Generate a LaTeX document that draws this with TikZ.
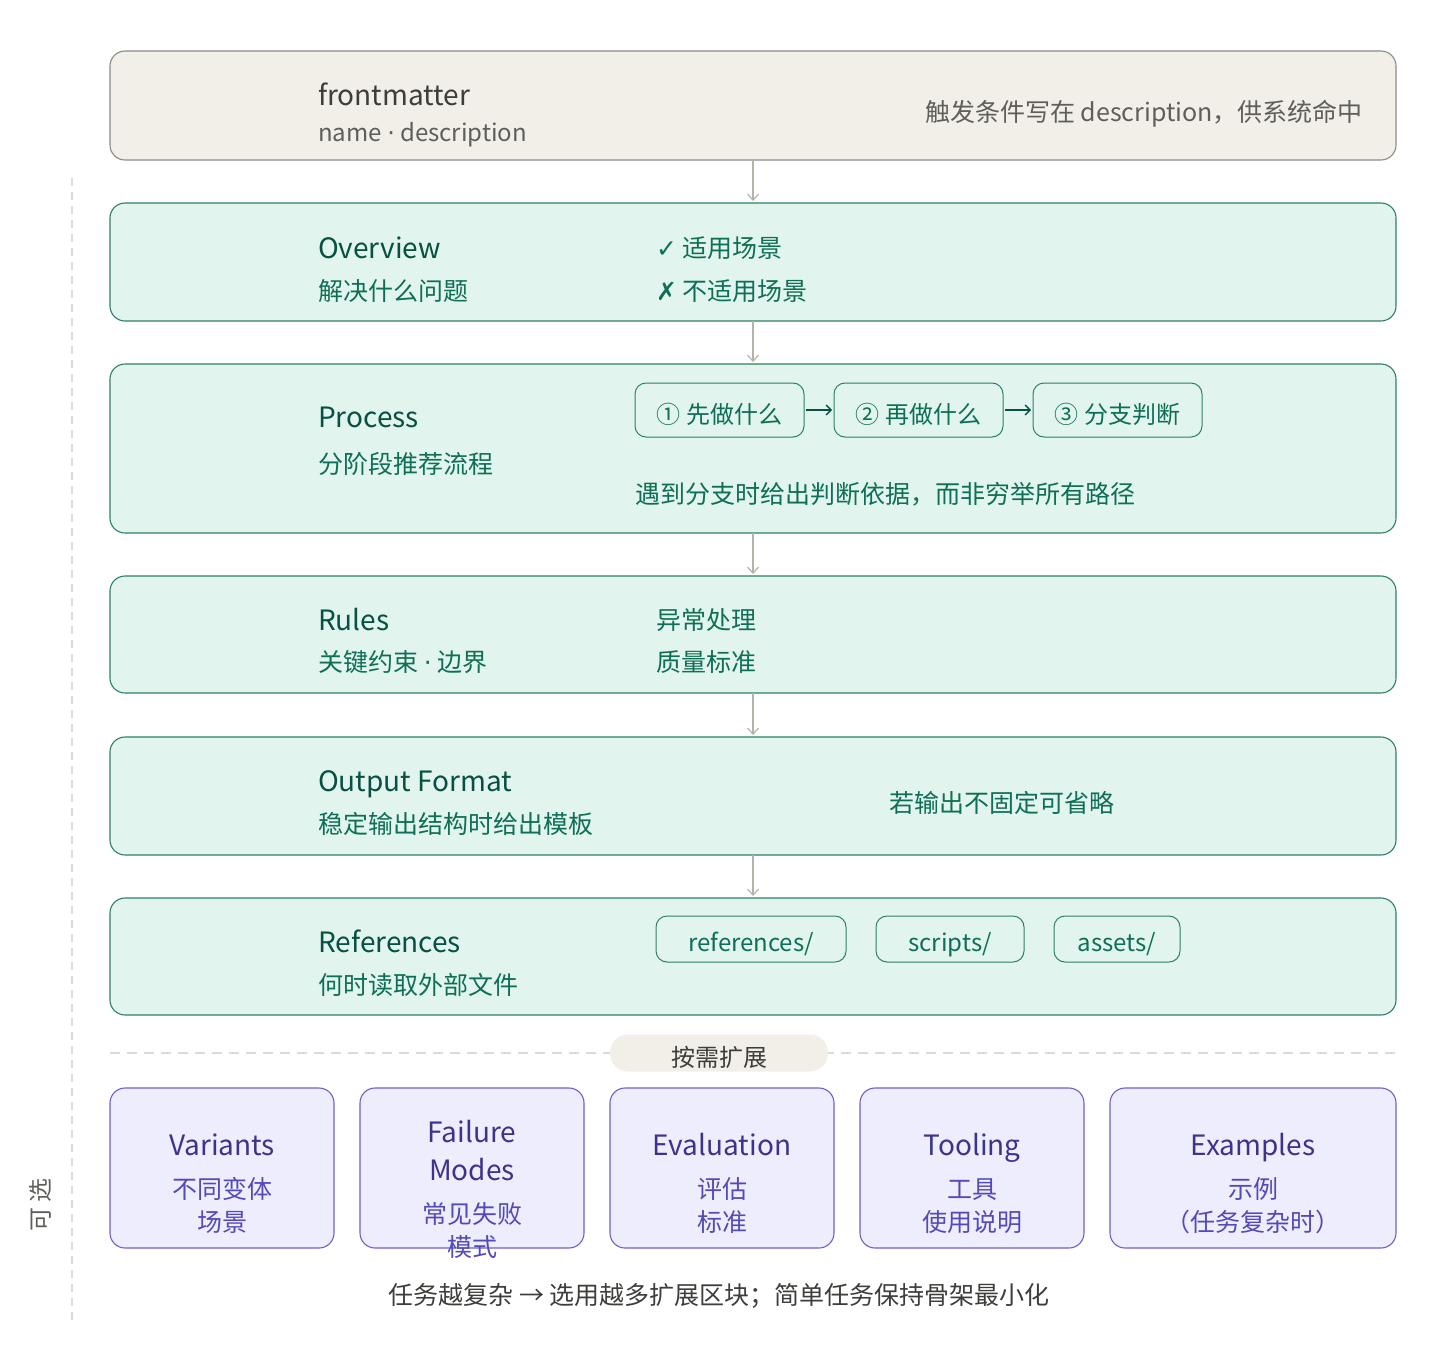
\documentclass[tikz,border=0pt]{standalone}
\usepackage{fontspec}
\setmainfont{Noto Sans CJK SC}
\newfontfamily\symf{DejaVu Sans}
\usetikzlibrary{arrows.meta}
\definecolor{gfill}{HTML}{F1EFE8}
\definecolor{gline}{HTML}{8C8A85}
\definecolor{gtitle}{HTML}{3D3D3A}
\definecolor{gsub}{HTML}{5F5E5A}
\definecolor{tfill}{HTML}{E1F5EE}
\definecolor{tline}{HTML}{2D8065}
\definecolor{ttitle}{HTML}{085041}
\definecolor{tsub}{HTML}{0F6E56}
\definecolor{pfill}{HTML}{EEEDFE}
\definecolor{pline}{HTML}{6A61CC}
\definecolor{ptitle}{HTML}{3C3489}
\definecolor{psub}{HTML}{534AB7}
\definecolor{arrc}{HTML}{B4B2A9}
\definecolor{dashc}{HTML}{DCDAD2}
\newcommand{\mdot}{{\symf ·}}
\newcommand{\lowtxt}[2]{\raisebox{-#1}[0pt][0pt]{#2}}
\tikzset{
  box/.style={rounded corners=15pt, line width=1.1pt, inner sep=0pt, outer sep=0pt, anchor=north west},
  graybox/.style={box, fill=gfill, draw=gline},
  tealbox/.style={box, fill=tfill, draw=tline},
  purbox/.style={box, fill=pfill, draw=pline, minimum height=160pt},
  chip/.style={rounded corners=11pt, line width=1pt, draw=tline, inner sep=0pt, outer sep=0pt, text=tsub, font=\fontsize{24}{28}\selectfont},
  ttl/.style={anchor=base west, inner sep=0pt, font=\fontsize{28}{32}\selectfont},
  sub/.style={anchor=base west, inner sep=0pt, font=\fontsize{25}{28}\selectfont},
  ptl/.style={anchor=base, inner sep=0pt, text=ptitle, font=\fontsize{28}{32}\selectfont},
  psb/.style={anchor=base, inner sep=0pt, text=psub, font=\fontsize{25}{28}\selectfont},
  arr/.style={draw=arrc, line width=1.2pt, -{Straight Barb[length=6pt,width=11pt]}, shorten >=2pt},
  sarr/.style={draw=ttitle, line width=1.3pt, -{Straight Barb[length=5pt,width=10pt]}, shorten >=2pt, shorten <=2pt},
}
\begin{document}
\begin{tikzpicture}[x=1pt,y=-1pt]
\useasboundingbox (0,0) rectangle (1440,1354);
% side dashed line & label
\coordinate (vtop) at (72,178);
\coordinate (vbot) at (72,1320);
\draw[dashc, line width=1.2pt, dash pattern=on 8pt off 6pt] (vtop) -- (vbot);
\node[rotate=90, inner sep=0pt, text=gsub, font=\fontsize{24}{28}\selectfont] (opt) at (40,1205) {可 选};

% main boxes
\node[graybox, minimum width=1286pt, minimum height=109pt] (fm) at (110,51) {};
\node[tealbox, minimum width=1286pt, minimum height=118pt] (ov) at (110,203) {};
\node[tealbox, minimum width=1286pt, minimum height=169pt] (pr) at (110,364) {};
\node[tealbox, minimum width=1286pt, minimum height=117pt] (ru) at (110,576) {};
\node[tealbox, minimum width=1286pt, minimum height=118pt] (of) at (110,737) {};
\node[tealbox, minimum width=1286pt, minimum height=117pt] (rf) at (110,898) {};

\draw[arr] (fm) -- (ov);
\draw[arr] (ov) -- (pr);
\draw[arr] (pr) -- (ru);
\draw[arr] (ru) -- (of);
\draw[arr] (of) -- (rf);

% frontmatter
\node[ttl, text=gtitle] (fmt) at (318,105) {frontmatter};
\node[sub, text=gsub, font=\fontsize{24}{28}\selectfont] (fms) at (318,141) {name \mdot\ description};
\node[sub, anchor=base east, text=gsub] (fmr) at (1363,121) {触发条件写在 description，供系统命中};

% overview
\node[ttl, text=ttitle] (ovt) at (318,258) {Overview};
\node[sub, text=tsub] (ovs) at (318,300) {解决什么问题};
\node[sub, text=tsub] (ov1) at (656,257) {{\symf ✓} 适用场景};
\node[sub, text=tsub] (ov2) at (656,300) {{\symf ✗} 不适用场景};

% process
\node[ttl, text=ttitle] (prt) at (318,427) {Process};
\node[sub, text=tsub] (prs) at (318,473) {分阶段推荐流程};
\node[chip, minimum width=169pt, minimum height=54pt] (s1) at (719.5,410) {\lowtxt{13pt}{① 先做什么}};
\node[chip, minimum width=169pt, minimum height=54pt] (s2) at (918.5,410) {\lowtxt{13pt}{② 再做什么}};
\node[chip, minimum width=169pt, minimum height=54pt] (s3) at (1117.5,410) {\lowtxt{13pt}{③ 分支判断}};
\draw[sarr] (s1) -- (s2);
\draw[sarr] (s2) -- (s3);
\node[sub, text=tsub] (prn) at (635,503) {遇到分支时给出判断依据，而非穷举所有路径};

% rules
\node[ttl, text=ttitle] (rut) at (318,630) {Rules};
\node[sub, text=tsub] (rus) at (318,671) {关键约束 \mdot\ 边界};
\node[sub, text=tsub] (ru1) at (656,629) {异常处理};
\node[sub, text=tsub] (ru2) at (656,671) {质量标准};

% output format
\node[ttl, text=ttitle] (oft) at (318,791) {Output Format};
\node[sub, text=tsub] (ofs) at (318,833) {稳定输出结构时给出模板};
\node[sub, text=tsub] (ofr) at (889,812) {若输出不固定可省略};

% references
\node[ttl, text=ttitle] (rft) at (318,952) {References};
\node[sub, text=tsub] (rfs) at (318,994) {何时读取外部文件};
\node[chip, minimum width=190pt, minimum height=46pt] (c1) at (751,939) {\lowtxt{12pt}{references/}};
\node[chip, minimum width=148pt, minimum height=46pt] (c2) at (950,939) {\lowtxt{12pt}{scripts/}};
\node[chip, minimum width=126pt, minimum height=46pt] (c3) at (1117,939) {\lowtxt{12pt}{assets/}};

% divider
\coordinate (dl) at (110,1053);
\coordinate (dr) at (1396,1053);
\draw[dashc, line width=1.5pt, dash pattern=on 10pt off 7pt] (dl) -- (dr);
\node[fill=gfill, rounded corners=18pt, minimum width=218pt, minimum height=37pt, inner sep=0pt, text=gtitle, font=\fontsize{24}{28}\selectfont] (ext) at (719,1053) {\lowtxt{13pt}{按需扩展}};

% purple boxes
\node[purbox, minimum width=224pt] (b1) at (110,1088) {};
\node[purbox, minimum width=224pt] (b2) at (360,1088) {};
\node[purbox, minimum width=224pt] (b3) at (610,1088) {};
\node[purbox, minimum width=224pt] (b4) at (860,1088) {};
\node[purbox, minimum width=286pt] (b5) at (1110,1088) {};

\node[ptl] (b1t) at (222,1155) {Variants};
\node[psb] (b1a) at (222,1198) {不同变体};
\node[psb] (b1b) at (222,1231) {场景};

\node[ptl] (b2t) at (472,1142) {Failure};
\node[ptl] (b2u) at (472,1180) {Modes};
\node[psb] (b2a) at (472,1223) {常见失败};
\node[psb] (b2b) at (472,1256) {模式};

\node[ptl] (b3t) at (722,1155) {Evaluation};
\node[psb] (b3a) at (722,1198) {评估};
\node[psb] (b3b) at (722,1231) {标准};

\node[ptl] (b4t) at (972,1155) {Tooling};
\node[psb] (b4a) at (972,1198) {工具};
\node[psb] (b4b) at (972,1231) {使用说明};

\node[ptl] (b5t) at (1253,1155) {Examples};
\node[psb] (b5a) at (1253,1198) {示例};
\node[psb] (b5b) at (1253,1231) {（任务复杂时）};

% caption
\node[anchor=base, inner sep=0pt, text=gtitle, font=\fontsize{25}{28}\selectfont] (cap) at (719,1304) {任务越复杂 → 选用越多扩展区块；简单任务保持骨架最小化};
\end{tikzpicture}
\end{document}
